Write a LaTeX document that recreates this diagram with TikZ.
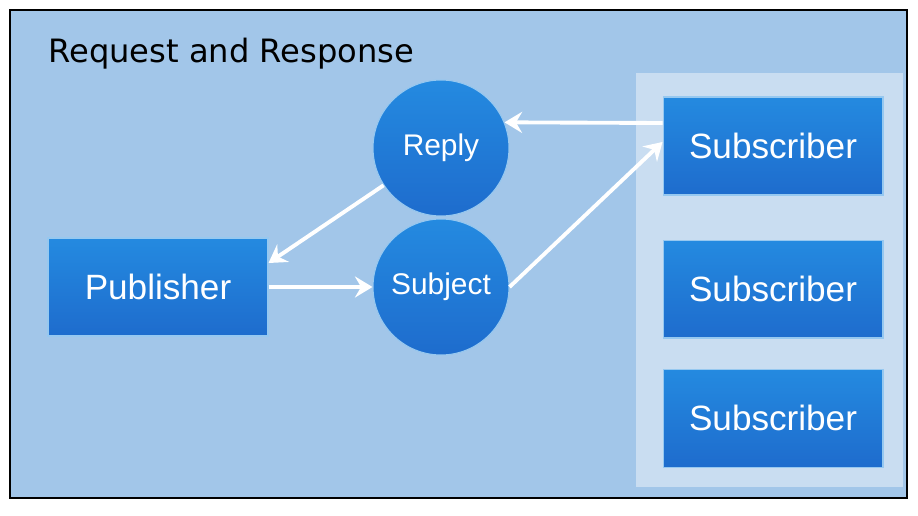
\documentclass[tikz,border=0pt]{standalone}
\usepackage{fontspec}
\setmainfont{Liberation Sans}
\newfontfamily\titlefont{DejaVu Sans}
\usetikzlibrary{arrows.meta,calc,positioning}
\definecolor{bgblue}{RGB}{162,198,233}
\definecolor{panelblue}{RGB}{201,221,241}
\definecolor{boxtop}{RGB}{36,138,224}
\definecolor{boxbot}{RGB}{30,108,205}
\definecolor{boxrim}{RGB}{150,200,240}

\begin{document}
\begin{tikzpicture}[x=0.02cm,y=-0.02cm,
    bluebox/.style={rectangle,draw=boxrim,line width=0.6pt,top color=boxtop,bottom color=boxbot,
      minimum width=4.4cm,minimum height=1.96cm,text=white,font=\fontsize{20}{24}\selectfont},
    bluedot/.style={circle,draw=boxrim,line width=0.6pt,top color=boxtop,bottom color=boxbot,
      minimum size=2.72cm,inner sep=0pt,text=white,font=\fontsize{17}{20}\selectfont},
    flow/.style={white,line width=2.2pt,-{Stealth[length=10pt,width=12pt,inset=3.5pt]}}]
    \useasboundingbox (0,0) rectangle (918,516);
    \fill[white] (0,0) rectangle (918,516);
    \draw[black,line width=1.2pt,fill=bgblue] (10,10) rectangle (907,498);
    \fill[panelblue] (636,73) rectangle (903,487);
    \node[anchor=base west,inner sep=0pt,font=\titlefont\fontsize{18.3}{22}\selectfont] (title) at (48,63) {Request and Response};

    \node[bluebox] (pub) at (158,287) {Publisher};
    \node[bluedot] (reply) at (441,148) {Reply};
    \node[bluedot] (subject) at (441,287) {Subject};
    \node[bluebox] (sub1) at (773,146) {Subscriber};
    \node[bluebox,below=0.88cm of sub1] (sub2) {Subscriber};
    \node[bluebox,below=0.6cm of sub2] (sub3) {Subscriber};

    \draw[flow] ([yshift=0.46cm]sub1.west) -- (reply.22);
    \draw[flow] (reply.213) -- ([yshift=0.48cm]pub.east);
    \draw[flow] (pub.east) -- (subject.west);
    \draw[flow] (subject.east) -- ([yshift=0.08cm]sub1.west);
  \end{tikzpicture}
\end{document}
